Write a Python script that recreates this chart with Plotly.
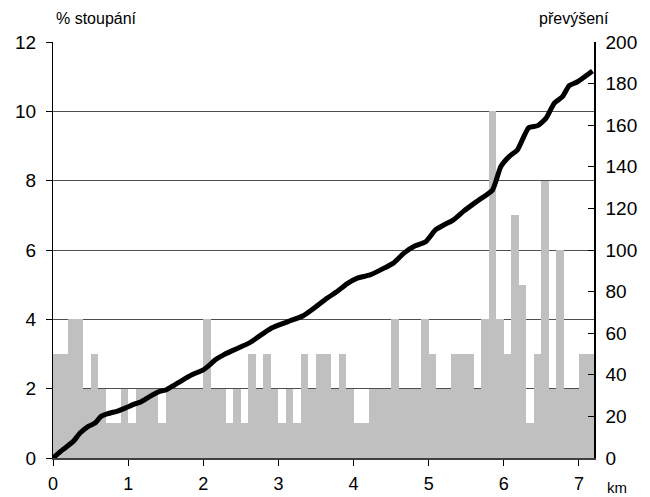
import plotly.graph_objects as go

# Grade per 100 m segment (%), 72 segments from 0 to 7.2 km
grade_pct = [3, 3, 4, 4, 2, 3, 2, 1, 1, 2,
             1, 2, 2, 2, 1, 2, 2, 2, 2, 2,
             4, 2, 2, 1, 2, 1, 3, 2, 3, 2,
             1, 2, 1, 3, 2, 3, 3, 2, 3, 2,
             1, 1, 2, 2, 2, 4, 2, 2, 2, 4,
             3, 2, 2, 3, 3, 3, 2, 4, 10, 4,
             3, 7, 5, 1, 3, 8, 2, 6, 2, 2,
             3, 3]
segment_km = [round(0.05 + 0.1 * i, 2) for i in range(len(grade_pct))]

# Cumulative elevation gain (m)
line_km = [0, 0.13, 0.27, 0.36, 0.47, 0.56, 0.64, 0.73, 0.87, 0.96,
           1.09, 1.18, 1.29, 1.42, 1.51, 1.62, 1.73, 1.85, 2.0, 2.07,
           2.16, 2.27, 2.38, 2.51, 2.62, 2.91, 3.13, 3.33, 3.49, 3.65,
           3.78, 3.91, 4.05, 4.22, 4.38, 4.53, 4.67, 4.82, 4.96, 5.09,
           5.2, 5.33, 5.47, 5.65, 5.85, 5.96, 6.07, 6.18, 6.33, 6.45,
           6.56, 6.67, 6.78, 6.87, 6.98, 7.18]
line_m = [0, 4.0, 8.0, 12, 15.2, 16.8, 20, 21.3, 22.7, 24,
          26, 27.2, 29.6, 32, 32.8, 35.2, 37.6, 40, 42.4, 44.3,
          47.2, 49.6, 51.5, 53.6, 55.5, 62.5, 65.6, 68.4, 72.5, 76.9,
          80, 83.7, 86.5, 88, 90.8, 93.7, 98.5, 102, 104, 109.7,
          112, 114.5, 118.8, 123.6, 128.9, 140.1, 144.9, 148.1, 158.8, 159.8,
          163.3, 170.5, 173.7, 179, 180.9, 186.1]

x_ticks = [0, 1, 2, 3, 4, 5, 6, 7]

FONT = "Liberation Sans, Arial, sans-serif"

fig = go.Figure()
fig.add_trace(go.Bar(x=segment_km, y=grade_pct, width=0.1,
                     marker=dict(color="#c0c0c0", line=dict(width=0)),
                     yaxis="y", showlegend=False))
fig.add_trace(go.Scatter(x=line_km, y=line_m, mode="lines",
                         line=dict(color="black", width=5, shape="spline", smoothing=0.5),
                         yaxis="y2", showlegend=False))

# page body has an 8px margin, so the figure is drawn at (8, 8)
fig.update_layout(
    width=642, height=489,
    margin=dict(l=45, r=56, t=34, b=39),
    plot_bgcolor="white", paper_bgcolor="white",
    bargap=0,
    font=dict(family=FONT, size=19, color="black"),
    xaxis=dict(range=[0, 7.2], tickvals=x_ticks, ticks="outside", ticklen=6,
               tickcolor="black", showline=True, linecolor="#404040", linewidth=1.5,
               showgrid=False, zeroline=False, tickfont=dict(size=18),
               ticklabelstandoff=3, automargin=False),
    yaxis=dict(range=[0, 12], dtick=2, ticks="outside", ticklen=6, tickcolor="black",
               showline=True, linecolor="black", linewidth=1,
               showgrid=True, gridcolor="#505050", gridwidth=1, zeroline=False,
               tickfont=dict(size=19), ticklabelstandoff=6, automargin=False),
    yaxis2=dict(range=[0, 200], dtick=20, overlaying="y", side="right",
                ticks="inside", ticklen=6, tickcolor="black",
                showline=True, linecolor="black", linewidth=1.5,
                showgrid=False, zeroline=False, tickfont=dict(size=19),
                ticklabelstandoff=6, automargin=False),
    annotations=[
        dict(text="% stoupání", xref="paper", yref="paper", x=0.0, y=1.0,
             xanchor="left", yanchor="middle", yshift=24, xshift=1, showarrow=False,
             font=dict(size=16, family=FONT)),
        dict(text="převýšení", xref="paper", yref="paper", x=1.0, y=1.0,
             xanchor="right", yanchor="middle", yshift=24, xshift=17, showarrow=False,
             font=dict(size=16, family=FONT)),
        dict(text="km", xref="paper", yref="paper", x=1.0, y=0,
             xanchor="left", yanchor="middle", xshift=11, yshift=-29, showarrow=False,
             font=dict(size=15, family=FONT)),
    ],
)

fig.write_html("out.html")
